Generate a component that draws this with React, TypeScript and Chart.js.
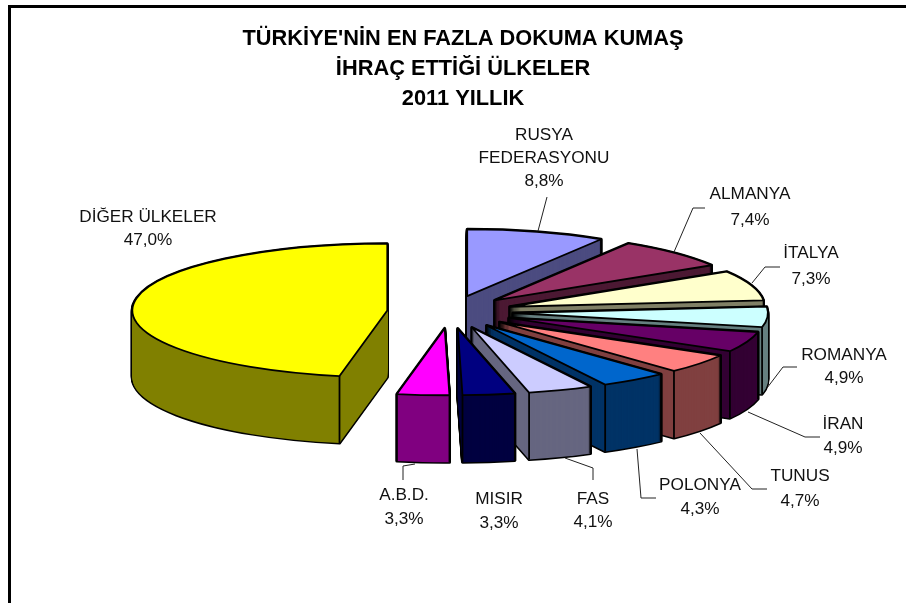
import React, { useEffect, useRef } from "react";
import { Chart, registerables } from "chart.js";

Chart.register(...registerables);

// ---- data ----
const countries = ["RUSYA FEDERASYONU", "ALMANYA", "İTALYA", "ROMANYA", "İRAN", "TUNUS", "POLONYA", "FAS", "MISIR", "A.B.D.", "DİĞER ÜLKELER"];
const shares = [8.8, 7.4, 7.3, 4.9, 4.9, 4.7, 4.3, 4.1, 3.3, 3.3, 47.0];
const titleLines = ["TÜRKİYE'NİN EN FAZLA DOKUMA KUMAŞ", "İHRAÇ ETTİĞİ ÜLKELER", "2011 YILLIK"];

// ---- style ----
const topColors = ["#9999FF", "#993366", "#FFFFCC", "#CCFFFF", "#660066", "#FF8080", "#0066CC", "#CCCCFF", "#000080", "#FF00FF", "#FFFF00"];
const sideColors = ["#4C4C80", "#4C1933", "#808066", "#668080", "#330033", "#804040", "#003366", "#666680", "#000040", "#800080", "#808000"];
const paintOrder = [10, 0, 1, 2, 3, 4, 5, 6, 7, 8, 9];

// ---- layout ----
const FONT = "'Liberation Sans', Arial, sans-serif";
const RADIUS = 255;
const EXPLODE = 63;
const SQUASH = 0.262;
const DEPTH = 67;
const CENTER_X = 450;
const CENTER_Y = 312;
const labelLayout: { x: number; lines: string[]; ys: number[] }[] = [
  { x: 544, lines: ["RUSYA", "FEDERASYONU"], ys: [135, 158, 181] },
  { x: 750, lines: ["ALMANYA"], ys: [194, 220] },
  { x: 811, lines: ["İTALYA"], ys: [253, 279] },
  { x: 844, lines: ["ROMANYA"], ys: [355, 378] },
  { x: 843, lines: ["İRAN"], ys: [424, 448] },
  { x: 800, lines: ["TUNUS"], ys: [476, 501] },
  { x: 700, lines: ["POLONYA"], ys: [485, 509] },
  { x: 593, lines: ["FAS"], ys: [499, 522] },
  { x: 499, lines: ["MISIR"], ys: [499, 523] },
  { x: 404, lines: ["A.B.D."], ys: [495, 519] },
  { x: 148, lines: ["DİĞER ÜLKELER"], ys: [217, 240] },
];
const leaders: number[][][] = [
  [[538, 231], [547, 197]],
  [[674, 252], [693, 208], [705, 208]],
  [[752, 283], [765, 267], [780, 267]],
  [[767, 388], [783, 367], [797, 367]],
  [[748, 412], [805, 437], [820, 437]],
  [[700, 433], [752, 489], [767, 489]],
  [[637, 449], [641, 498], [656, 498]],
  [[565, 458], [593, 468], [593, 480]],
  [[415, 464], [403, 466], [403, 480]],
];

const pie3d = {
  id: "pie3d",
  beforeDraw(chart: any) {
    const { ctx, width, height } = chart;
    ctx.save();
    ctx.fillStyle = "#fff";
    ctx.fillRect(0, 0, width, height);
    ctx.fillStyle = "#000";
    ctx.fillRect(8, 5, width - 8, 3);
    ctx.fillRect(8, 5, 3, height - 5);
    ctx.restore();
  },
  beforeDatasetsDraw(chart: any) {
    const { ctx } = chart;
    const arcs = chart.getDatasetMeta(0).data;

    const place = (arc: any, dy: number) => {
      const mid = (arc.startAngle + arc.endAngle) / 2;
      ctx.setTransform(1, 0, 0, SQUASH, CENTER_X - arc.x, CENTER_Y + dy - arc.y * SQUASH);
      ctx.translate(Math.cos(mid) * EXPLODE, Math.sin(mid) * EXPLODE);
    };
    const trace = (arc: any) => {
      ctx.beginPath();
      ctx.moveTo(arc.x, arc.y);
      ctx.arc(arc.x, arc.y, arc.outerRadius, arc.startAngle, arc.endAngle);
      ctx.closePath();
    };
    const fillWith = (arc: any, color: string) => {
      const saved = arc.options;
      arc.options = { ...saved, backgroundColor: color, borderColor: color, borderWidth: 0 };
      arc.draw(ctx);
      arc.options = saved;
    };

    ctx.save();
    for (const i of paintOrder) {
      const arc = arcs[i];
      // black silhouette of the extruded wall
      ctx.strokeStyle = "#000";
      ctx.lineJoin = "round";
      for (let dy = DEPTH; dy >= 0; dy--) {
        place(arc, dy);
        trace(arc);
        ctx.setTransform(1, 0, 0, 1, 0, 0);
        ctx.lineWidth = 3;
        ctx.stroke();
      }
      // wall
      for (let dy = DEPTH; dy >= 0; dy--) {
        place(arc, dy);
        fillWith(arc, sideColors[i]);
      }
      // vertical edges at the slice's visible corners
      ctx.lineWidth = 1.8;
      for (const a of [arc.startAngle, arc.endAngle]) {
        const visible = Math.sin(a) > 0 || (a === arc.endAngle && Math.cos(a) > 0.01);
        if (!visible) continue;
        place(arc, 0);
        const m = ctx.getTransform();
        const px = arc.x + Math.cos(a) * arc.outerRadius;
        const py = arc.y + Math.sin(a) * arc.outerRadius;
        const sx = m.a * px + m.c * py + m.e;
        const sy = m.b * px + m.d * py + m.f;
        ctx.setTransform(1, 0, 0, 1, 0, 0);
        ctx.beginPath();
        ctx.moveTo(sx, sy);
        ctx.lineTo(sx, sy + DEPTH);
        ctx.stroke();
      }
      // top face
      place(arc, 0);
      fillWith(arc, topColors[i]);
      place(arc, 0);
      trace(arc);
      ctx.setTransform(1, 0, 0, 1, 0, 0);
      ctx.lineWidth = 1.8;
      ctx.stroke();
    }
    ctx.restore();

    // leader lines
    ctx.save();
    ctx.strokeStyle = "#222";
    ctx.lineWidth = 1;
    for (const pts of leaders) {
      ctx.beginPath();
      pts.forEach(([x, y], k) => (k ? ctx.lineTo(x, y) : ctx.moveTo(x, y)));
      ctx.stroke();
    }
    // data labels
    ctx.fillStyle = "#111";
    ctx.font = `17.2px ${FONT}`;
    ctx.textAlign = "center";
    ctx.textBaseline = "middle";
    labelLayout.forEach((l, i) => {
      const all = [...l.lines, shares[i].toFixed(1).replace(".", ",") + "%"];
      all.forEach((t, k) => ctx.fillText(t, l.x, l.ys[k]));
    });
    ctx.restore();
    return false;
  },
};

export default function App() {
  const ref = useRef<HTMLCanvasElement>(null);
  useEffect(() => {
    const chart = new Chart(ref.current!, {
      type: "pie",
      data: {
        labels: countries,
        datasets: [{ data: shares, backgroundColor: topColors, borderWidth: 0, radius: RADIUS, clip: false } as any],
      },
      options: {
        animation: false,
        responsive: false,
        events: [],
        layout: { padding: { left: 20 } },
        plugins: {
          legend: { display: false },
          tooltip: { enabled: false },
          title: {
            display: true,
            text: titleLines,
            color: "#000",
            font: { family: FONT, size: 21.8, weight: "bold", lineHeight: 1.376 },
            padding: { top: 24, bottom: 0 },
          },
        },
      },
      plugins: [pie3d],
    } as any);
    return () => chart.destroy();
  }, []);
  return <canvas ref={ref} width={906} height={603} style={{ position: "fixed", left: 0, top: 0, display: "block" }} />;
}
